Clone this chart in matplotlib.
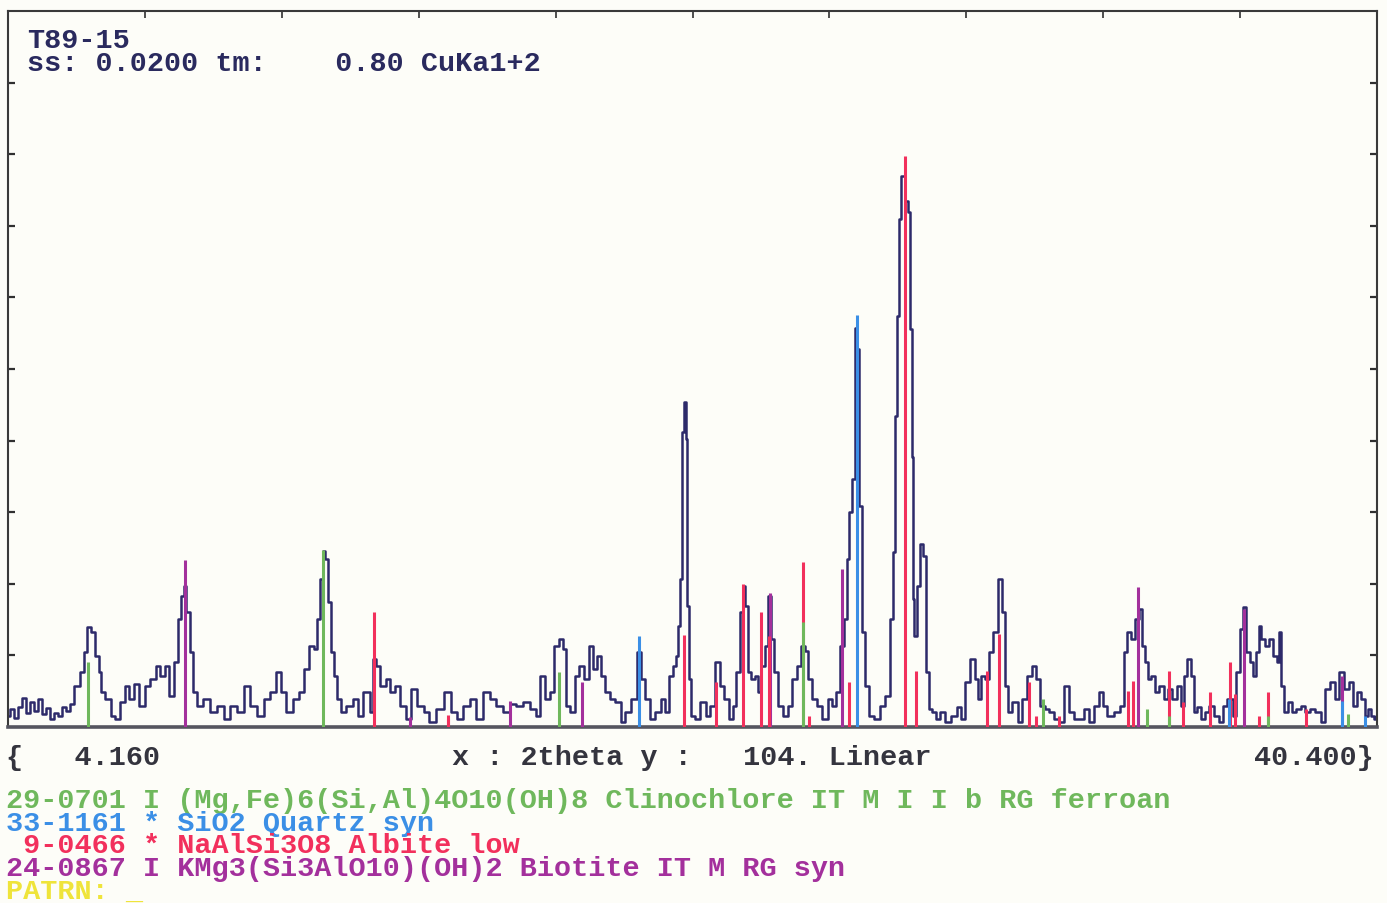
import matplotlib
matplotlib.use("Agg")
import matplotlib.pyplot as plt
import numpy as np

# Scan settings
x_min, x_max = 4.160, 40.400
y_full = 104.0

# Measured pattern (2theta in degrees, counts)
two_theta = [
    4.16, 4.27, 4.37, 4.48, 4.58, 4.69, 4.80, 4.90, 5.01, 5.11, 5.22, 5.32, 5.43, 5.54,
    5.64, 5.75, 5.85, 5.99, 6.12, 6.20, 6.30, 6.41, 6.52, 6.60, 6.67, 6.81, 6.94, 7.05,
    7.18, 7.31, 7.44, 7.57, 7.71, 7.84, 8.00, 8.13, 8.26, 8.37, 8.50, 8.63, 8.71, 8.79,
    8.85, 8.92, 9.03, 9.11, 9.24, 9.43, 9.59, 9.77, 9.96, 10.12, 10.30, 10.49, 10.65,
    10.83, 11.02, 11.17, 11.36, 11.44, 11.62, 11.81, 11.94, 12.07, 12.21, 12.29, 12.37,
    12.47, 12.52, 12.60, 12.66, 12.74, 12.82, 12.90, 13.03, 13.21, 13.35, 13.48, 13.66,
    13.80, 13.85, 13.95, 14.09, 14.22, 14.35, 14.48, 14.62, 14.75, 14.88, 15.07, 15.25,
    15.38, 15.60, 15.81, 15.99, 16.12, 16.31, 16.47, 16.65, 16.84, 17.00, 17.18, 17.37,
    17.53, 17.71, 17.90, 18.06, 18.19, 18.30, 18.43, 18.56, 18.69, 18.80, 18.90, 18.98,
    19.12, 19.22, 19.35, 19.49, 19.59, 19.70, 19.80, 19.91, 20.04, 20.17, 20.31, 20.44,
    20.57, 20.76, 20.86, 20.97, 21.10, 21.23, 21.37, 21.50, 21.60, 21.71, 21.82, 21.87,
    21.92, 22.00, 22.03, 22.08, 22.13, 22.16, 22.19, 22.29, 22.42, 22.56, 22.69, 22.82,
    22.93, 23.06, 23.19, 23.32, 23.40, 23.48, 23.59, 23.64, 23.72, 23.80, 23.88, 23.99,
    24.04, 24.15, 24.25, 24.33, 24.41, 24.49, 24.60, 24.73, 24.86, 24.99, 25.10, 25.20,
    25.31, 25.39, 25.52, 25.65, 25.79, 25.92, 26.05, 26.13, 26.24, 26.32, 26.40, 26.45,
    26.53, 26.61, 26.66, 26.74, 26.77, 26.90, 27.03, 27.16, 27.32, 27.45, 27.56, 27.62,
    27.66, 27.72, 27.77, 27.85, 27.96, 28.01, 28.06, 28.12, 28.14, 28.17, 28.25, 28.35,
    28.41, 28.49, 28.57, 28.65, 28.78, 28.91, 29.04, 29.23, 29.36, 29.44, 29.55, 29.70,
    29.81, 29.89, 29.97, 30.07, 30.18, 30.29, 30.42, 30.50, 30.58, 30.68, 30.82, 30.95,
    31.08, 31.21, 31.34, 31.42, 31.56, 31.66, 31.79, 31.93, 32.06, 32.19, 32.32, 32.46,
    32.59, 32.72, 32.85, 32.99, 33.09, 33.20, 33.33, 33.52, 33.65, 33.73, 33.86, 33.94,
    34.04, 34.15, 34.23, 34.31, 34.39, 34.47, 34.57, 34.71, 34.81, 34.92, 35.05, 35.18,
    35.26, 35.34, 35.42, 35.53, 35.58, 35.69, 35.79, 35.90, 36.03, 36.14, 36.27, 36.37,
    36.51, 36.64, 36.72, 36.82, 36.90, 36.98, 37.09, 37.17, 37.25, 37.30, 37.38, 37.49,
    37.59, 37.70, 37.78, 37.83, 37.91, 37.99, 38.10, 38.20, 38.31, 38.44, 38.57, 38.70,
    38.84, 38.97, 39.10, 39.23, 39.34, 39.47, 39.60, 39.71, 39.82, 39.92, 40.05, 40.13,
    40.21, 40.29, 40.35, 40.40,
]
counts = [
    1.6, 2.6, 1.3, 2.9, 4.2, 2.1, 3.7, 2.3, 4.0, 1.9, 2.7, 1.1, 2.1, 1.6,
    2.9, 2.3, 3.4, 6.0, 8.0, 10.9, 14.5, 13.8, 10.3, 8.0, 5.1, 4.1, 1.6, 1.2,
    3.6, 6.0, 4.1, 6.3, 3.1, 6.0, 7.0, 8.9, 7.4, 8.9, 4.5, 9.4, 15.7, 19.0,
    20.5, 16.7, 10.9, 5.1, 3.1, 4.1, 2.2, 3.1, 1.2, 3.1, 2.2, 6.0, 3.1,
    1.6, 4.1, 5.1, 8.0, 5.1, 2.2, 4.1, 5.1, 8.4, 11.8, 11.3, 15.7,
    21.5, 25.6, 24.4, 18.2, 10.9, 7.4, 4.1, 2.2, 3.1, 4.1, 1.6, 5.1,
    2.2, 9.9, 8.9, 6.0, 7.0, 5.1, 6.0, 3.1, 1.2, 5.5, 3.1, 2.2,
    0.7, 2.6, 5.1, 2.2, 1.2, 3.1, 4.1, 1.2, 5.1, 4.1, 3.1, 2.2,
    3.3, 3.1, 3.6, 2.6, 1.6, 7.4, 4.1, 5.1, 11.8, 12.8, 11.3, 3.1,
    2.2, 7.4, 8.9, 7.0, 11.8, 8.4, 10.3, 7.4, 5.1, 4.1, 3.6, 0.7,
    2.2, 4.1, 10.9, 7.0, 4.1, 1.2, 2.2, 4.1, 2.2, 7.4, 8.9, 10.3,
    14.7, 21.5, 42.9, 47.2, 41.8, 17.6, 7.0, 1.6, 1.2, 3.6, 1.6, 3.1,
    9.4, 6.0, 4.1, 1.2, 3.1, 8.0, 16.7, 20.5, 17.6, 8.0, 7.0, 7.4,
    5.1, 8.9, 11.8, 19.0, 12.8, 8.0, 3.1, 1.6, 3.1, 7.0, 8.9, 11.8,
    11.0, 7.0, 4.1, 3.1, 1.2, 4.1, 3.1, 5.1, 11.8, 15.7, 24.4, 31.2,
    36.0, 58.0, 54.9, 32.1, 13.8, 6.0, 1.6, 1.2, 3.1, 4.5, 15.7, 25.4,
    45.2, 59.7, 73.8, 80.0, 76.4, 74.8, 57.8, 39.2, 18.6, 13.2, 20.5, 26.6,
    24.8, 8.0, 2.6, 2.2, 1.2, 2.2, 0.7, 1.6, 2.9, 1.2, 6.5, 9.9,
    7.0, 4.1, 7.4, 7.0, 10.9, 13.8, 21.5, 16.7, 6.0, 2.2, 3.6, 0.7,
    4.1, 7.4, 8.9, 7.0, 3.1, 2.6, 2.2, 1.2, 0.7, 6.0, 2.2, 1.2,
    1.2, 2.6, 0.7, 3.1, 5.1, 3.1, 1.6, 2.2, 3.1, 10.9, 13.8, 12.8,
    15.7, 17.1, 11.8, 9.4, 7.0, 7.4, 5.1, 6.0, 4.1, 5.5, 4.1, 6.0,
    3.1, 7.4, 9.9, 7.4, 2.2, 2.9, 1.2, 2.2, 3.1, 1.6, 0.7, 3.1,
    4.1, 1.6, 8.0, 14.2, 17.4, 10.9, 9.4, 7.4, 10.9, 14.7, 12.8, 11.8,
    12.8, 10.3, 9.4, 13.8, 6.0, 2.2, 3.6, 2.2, 2.6, 3.1, 2.2, 2.6,
    2.2, 0.7, 5.5, 6.5, 4.1, 8.0, 5.5, 6.5, 3.1, 5.1, 4.1, 1.6,
    2.6, 1.6, 1.2, 1.6,
]

# Reference card line positions and heights
clinochlore_pos = [6.28, 12.50, 18.74, 25.20, 31.56, 34.31, 34.89, 37.51, 39.63]
clinochlore_int = [9.4, 25.7, 8.0, 15.3, 4.1, 2.6, 1.6, 1.6, 1.9]

quartz_pos = [20.86, 26.63, 36.48, 39.47, 40.08]
quartz_int = [13.2, 59.8, 4.1, 3.8, 1.6]

albite_pos = [13.85, 15.81, 22.05, 22.90, 23.62, 24.09, 24.30, 25.20, 25.36, 26.42,
              27.90, 28.19, 30.07, 30.39, 31.19, 31.37, 31.98, 33.81, 33.94, 34.89,
              35.26, 35.98, 36.51, 36.64, 37.27, 37.51, 38.52]
albite_int = [16.7, 1.7, 13.4, 6.5, 20.8, 16.7, 13.2, 24.0, 1.6, 6.5,
              82.9, 8.1, 8.1, 13.5, 6.5, 1.6, 1.6, 5.2, 6.7, 8.1,
              3.6, 5.1, 9.4, 4.8, 1.6, 5.1, 2.6]

biotite_pos = [8.85, 14.80, 15.81, 17.45, 19.35, 24.33, 26.24, 34.07, 36.88, 39.47]
biotite_int = [24.3, 1.5, 1.2, 3.8, 6.5, 19.5, 23.0, 20.3, 17.1, 7.4]

card_lines = [
    "29-0701 I (Mg,Fe)6(Si,Al)4O10(OH)8 Clinochlore IT M I I b RG ferroan",
    "33-1161 * SiO2 Quartz syn",
    " 9-0466 * NaAlSi3O8 Albite low",
    "24-0867 I KMg3(Si3AlO10)(OH)2 Biotite IT M RG syn",
]

green = "#6fb85c"
blue = "#3b8fe6"
red = "#f2305c"
purple = "#a3309c"
trace_color = "#2d2a6a"
yellow = "#efe43a"

W, H = 1387, 904
fig = plt.figure(figsize=(W / 100, H / 100), dpi=100, facecolor="#fdfdf8")
ax = fig.add_axes([8 / W, 1 - 728 / H, (1377 - 8) / W, (728 - 12) / H])
ax.set_facecolor("#fdfdf8")

ax.plot(two_theta, counts, drawstyle="steps-mid", color=trace_color, lw=1.8, zorder=2)

ax.vlines(biotite_pos, 0, biotite_int, colors=purple, lw=2.2, zorder=3)
ax.vlines(albite_pos, 0, albite_int, colors=red, lw=2.2, zorder=3)
ax.vlines(quartz_pos, 0, quartz_int, colors=blue, lw=2.2, zorder=3)
ax.vlines(clinochlore_pos, 0, clinochlore_int, colors=green, lw=2.2, zorder=3)

ax.set_xlim(x_min, x_max)
ax.set_ylim(0, y_full)
ax.set_xticks(np.linspace(x_min, x_max, 11)[1:-1])
ax.set_yticks(np.linspace(0, y_full, 11)[1:-1])
ax.tick_params(axis="x", direction="in", length=5, width=1.2, color="#303030",
               top=True, bottom=False, labeltop=False, labelbottom=False)
ax.tick_params(axis="y", direction="in", length=5, width=1.6, color="#303030",
               left=True, right=True, labelleft=False, labelright=False)
for side in ["left", "top", "right"]:
    ax.spines[side].set_color("#3a3a3a")
    ax.spines[side].set_linewidth(1.5)
ax.spines["bottom"].set_color("#55555f")
ax.spines["bottom"].set_linewidth(2.6)

mono = dict(family=["Liberation Mono", "DejaVu Sans Mono"], weight="bold", size=20.5)


def put(x, y, s, color, ha="left"):
    fig.text(x / W, 1 - y / H, s, color=color, ha=ha, va="baseline", **mono)


# header
put(27, 48, "T89-15", "#2a2a5e")
put(27, 71, "ss: 0.0200 tm:    0.80 CuKa1+2", "#2a2a5e")

# scan range and axis description
put(6, 765, "{   4.160", "#34343e")
put(452, 765, "x : 2theta y :   104. Linear", "#34343e")
put(1374, 765, "40.400}", "#34343e", ha="right")

# card list
for s, c, yb in zip(card_lines, [green, blue, red, purple], [808, 831, 853, 876]):
    put(6, yb, s, c)
put(6, 899, "PATRN: _", yellow)

fig.savefig("out.png", dpi=100, facecolor=fig.get_facecolor())
